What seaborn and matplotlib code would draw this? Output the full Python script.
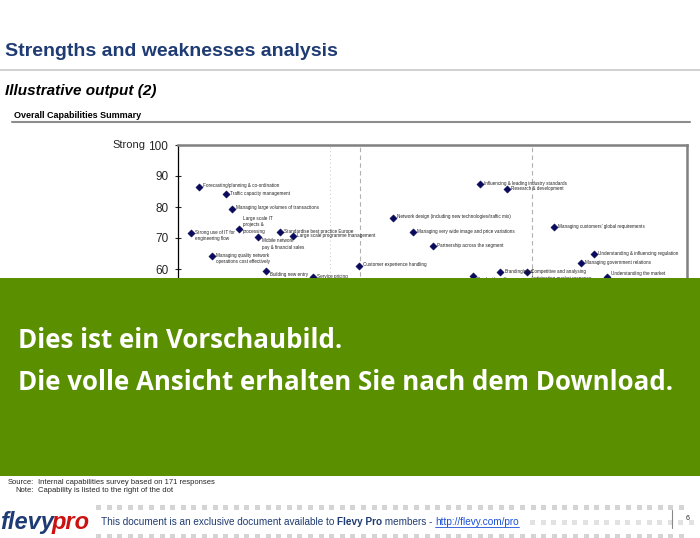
import matplotlib
matplotlib.use('Agg')
import matplotlib.pyplot as plt
import seaborn as sns
import pandas as pd
from matplotlib.patches import Rectangle

# Capability scores (x = position, y = strength 0-100)
capabilities = [
    'Forecasting/planning & co-ordination',
    'Traffic capacity management',
    'Managing large volumes of transactions',
    'Strong use of IT for\nengineering flow',
    'Large scale IT\nprojects &\nprocessing',
    'Mobile network\npay & financial sales',
    'Standardise best practice Europe',
    'Large scale programme management',
    'Managing quality network\noperations cost effectively',
    'Building new entry\nalliances',
    'Service pricing',
    'Customer experience handling',
    'Network design (including new technologies/traffic mix)',
    'Managing very wide image and price variations',
    'Partnership across the segment',
    'Influencing & leading industry standards',
    'Research & development',
    "Managing customers' global requirements",
    'Understanding & influencing regulation',
    'Managing government relations',
    'Competitive and analysing\nAnticipating market response',
    'Branding/prod',
    'Product bundling',
    'Understanding the market',
]
x_pos = [4.1, 9.4, 10.6, 2.6, 12.0, 15.7, 20.0, 22.6, 6.7, 17.3, 26.5, 35.6,
         42.2, 46.2, 50.1, 59.3, 64.6, 73.9, 81.7, 79.2, 68.6, 63.3, 58.0, 84.3]
strength = [86.5, 84.2, 79.4, 71.6, 72.9, 70.3, 71.9, 70.6, 64.2, 59.4, 57.4, 61.0,
            76.5, 71.9, 67.4, 87.4, 85.8, 73.5, 64.8, 61.9, 59.0, 59.0, 57.7, 57.4]
y_ticks = [60, 70, 80, 90, 100]
group_lines = [35.8, 69.5]

df = pd.DataFrame({'capability': capabilities, 'x': x_pos, 'y': strength})

sns.set_style('white')
plt.rcParams['font.family'] = ['Liberation Sans', 'DejaVu Sans']

fig = plt.figure(figsize=(7.0, 5.38), dpi=100)
W, H = 700, 538

def fx(px):
    return px / W

def fy(py):
    return 1 - py / H

# Header
fig.text(fx(5), fy(52), 'Strengths and weaknesses analysis', fontsize=14, fontweight='bold',
         color='#1f3b73', va='center', ha='left')
fig.add_artist(plt.Line2D([0, 1], [fy(70), fy(70)], color='#c8c8c8', lw=1.2))
fig.text(fx(5), fy(91), 'Illustrative output (2)', fontsize=11, fontweight='bold',
         fontstyle='italic', color='black', va='center')
fig.text(fx(14), fy(115), 'Overall Capabilities Summary', fontsize=6.5, fontweight='bold',
         color='black', va='center')
fig.add_artist(plt.Line2D([fx(12), fx(690)], [fy(122), fy(122)], color='#8c8c8c', lw=1.5))

# Chart
ax = fig.add_axes([fx(178), fy(455), fx(687 - 178), (455 - 145) / H])
sns.scatterplot(data=df, x='x', y='y', marker='D', s=14, color='#0a0a5c',
                edgecolor='#0a0a5c', ax=ax, zorder=3, legend=False)

# labels to the right of the dots
label_va = {4: 'center', 5: 'top', 9: 'top', 22: 'top', 23: 'bottom'}
for i, row in df.iterrows():
    va = label_va.get(i, 'center')
    if '\n' in row['capability'] and i not in label_va:
        va = 'top'
        dy = 0.9
    elif va == 'bottom':
        dy = 0.5
    elif va == 'top':
        dy = -0.4
    else:
        dy = 1.3 if i == 4 else 0.3
    ax.text(row['x'] + 0.8, row['y'] + dy, row['capability'], fontsize=3.3,
            color='#222222', va=va, ha='left', linespacing=1.3)

for gx in group_lines:
    ax.axvline(gx, color='#b0b0b0', lw=0.8, ls=(0, (4, 3)), zorder=1)
ax.axvline(29.9, color='#c8c8c8', lw=0.7, ls=(0, (1, 3)), zorder=1)

ax.set_xlim(0, 100)
ax.set_ylim(0, 100)
ax.set_xticks([])
ax.set_yticks(y_ticks)
ax.set_yticklabels([str(t) for t in y_ticks], fontsize=8.5)
ax.tick_params(axis='y', direction='inout', length=5, width=0.8, pad=4.5, left=True)
ax.set_xlabel('')
ax.set_ylabel('')
ax.spines['left'].set_color('black')
ax.spines['left'].set_linewidth(0.9)
for side in ['top', 'right']:
    ax.spines[side].set_color('#808080')
    ax.spines[side].set_linewidth(1.8)
ax.spines['bottom'].set_visible(False)
fig.text(fx(112), fy(145), 'Strong', fontsize=8, va='center', ha='left')

# Preview banner
banner = fig.add_axes([0, fy(476), 1, (476 - 278) / H], zorder=10)
banner.set_facecolor('#5a9000')
banner.set_xticks([])
banner.set_yticks([])
for s in banner.spines.values():
    s.set_visible(False)
fig.text(fx(18), fy(340), 'Dies ist ein Vorschaubild.', fontsize=18.6, color='white',
         fontweight='bold', family=['Open Sans', 'DejaVu Sans'], va='center', zorder=11)
fig.text(fx(18), fy(383), 'Die volle Ansicht erhalten Sie nach dem Download.', fontsize=18.6,
         color='white', fontweight='bold', family=['Open Sans', 'DejaVu Sans'],
         va='center', zorder=11)

# Source / note
fig.text(fx(34), fy(482), 'Source:', fontsize=5.5, ha='right', va='center')
fig.text(fx(38), fy(482), 'Internal capabilities survey based on 171 responses', fontsize=5.5,
         va='center')
fig.text(fx(34), fy(491), 'Note:', fontsize=5.5, ha='right', va='center')
fig.text(fx(38), fy(491), 'Capability is listed to the right of the dot', fontsize=5.5,
         va='center')

# Footer squares
for row_y in [507, 536]:
    for k in range(0, 56):
        px = 96 + k * 10.6
        fig.add_artist(Rectangle((fx(px), fy(row_y + 2.5)), fx(5), 5 / H,
                                 color='#d4d4d4', lw=0))
for k in range(0, 16):
    px = 530 + k * 10.6
    fig.add_artist(Rectangle((fx(px), fy(524.5)), fx(5), 5 / H, color='#e2e2e2', lw=0))
fig.add_artist(plt.Line2D([fx(672), fx(672)], [fy(528), fy(510)], color='#888888', lw=0.8))
fig.text(fx(686), fy(519), '6', fontsize=5, va='center')

fig.text(fx(0), fy(522), 'flevy', fontsize=17, fontweight='bold', fontstyle='italic',
         color='#1f3b73', va='center', family=['Liberation Sans Narrow', 'Liberation Sans'])
fig.text(fx(52), fy(522), 'pro', fontsize=17, fontweight='bold', fontstyle='italic',
         color='#cc1111', va='center', family=['Liberation Sans Narrow', 'Liberation Sans'])

# footer sentence, pieces chained one after the other
renderer = fig.canvas.get_renderer()
pieces = [('This document is an exclusive document available to ', 'normal', '#1f3b73'),
          ('Flevy Pro', 'bold', '#1f3b73'),
          (' members - ', 'normal', '#1f3b73'),
          ('http://flevy.com/pro', 'normal', '#1a4fd6')]
cur = 101
for txt, wt, col in pieces:
    t = fig.text(fx(cur), fy(522), txt, fontsize=7.2, fontweight=wt, color=col, va='center')
    bb = t.get_window_extent(renderer)
    if txt.startswith('http'):
        fig.add_artist(plt.Line2D([fx(cur), fx(cur + bb.width)], [fy(527), fy(527)],
                                  color='#1a4fd6', lw=0.6))
    cur += bb.width

fig.savefig('out.png', dpi=100)
